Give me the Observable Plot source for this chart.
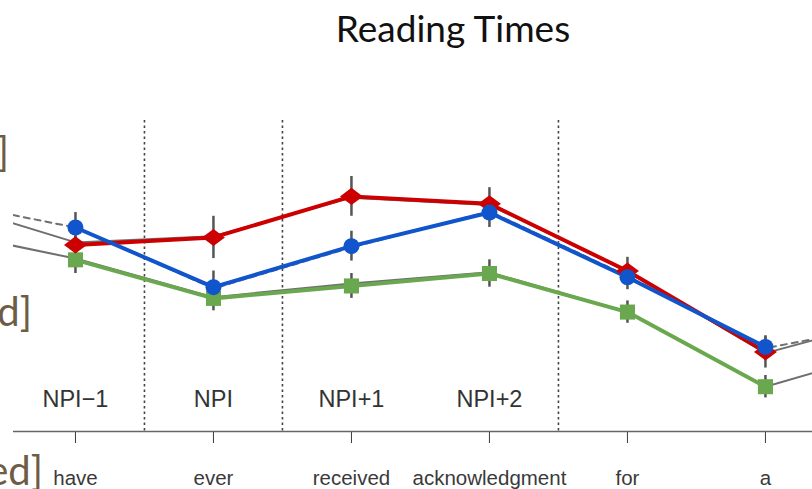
<!DOCTYPE html>
<html>
<head>
<meta charset="utf-8">
<script src="https://cdn.jsdelivr.net/npm/d3@7"></script>
<script src="https://cdn.jsdelivr.net/npm/@observablehq/plot@0.6"></script>
<style>
  html, body { margin: 0; padding: 0; background: #fff; }
  body { width: 812px; height: 489px; position: relative; overflow: hidden; }
  #title { position: relative; height: 60px; }
  #title span { position: absolute; left: 453px; top: 9px; transform: translateX(-50%);
    font-family: Lato, sans-serif; font-size: 37px; line-height: 1; color: #111; white-space: nowrap; }
  .cut { position: absolute; font-family: Lato, sans-serif; font-size: 40px; line-height: 1;
    color: #6e5d44; white-space: nowrap; text-align: right; z-index: 2; }
  #chart svg { display: block; }
</style>
</head>
<body>
<div id="title"><span>Reading Times</span></div>
<div id="chart"></div>
<div class="cut" style="top:131px; right:803px;">]</div>
<div class="cut" style="top:291px; right:780px;">d]</div>
<div class="cut" style="top:450px; right:769px;">ed]</div>
<script>
// word positions along the sentence
const words = ["have", "ever", "received", "acknowledgment", "for", "a"];
const regionLabels = ["NPI−1", "NPI", "NPI+1", "NPI+2"];
const regionBoundaries = [0.5, 1.5, 3.5];

// reading times (estimated, ms) per word
const red = [350, 356, 389, 383, 329, 264];
const redErr = [14, 17, 16, 13, 11, 13];
const blue = [364, 316, 349, 376, 324, 268];
const blueErr = [12, 13, 12, 12, 10, 8];
const green = [338, 307, 317, 327, 296, 236];
const greenErr = [11, 10, 10, 11, 9, 9];

// background (gray) conditions, including preceding and following words
const grayX = [-1, 0, 1, 2, 3, 4, 5, 6];
const graySolidA = [386, 352, 357, 388, 382, 329, 263, 293];
const graySolidB = [362, 339, 308, 319, 328, 296, 236, 268];
const grayDashed = [386, 364, 315, 348, 377, 325, 267, 288];

const pts = (vals, errs, s) => vals.map((v, i) => ({x: i, y: v, lo: v - errs[i], hi: v + errs[i], s}));
const redPts = pts(red, redErr, "red");
const bluePts = pts(blue, blueErr, "blue");
const greenPts = pts(green, greenErr, "green");
const grayRows = (vals) => vals.map((v, i) => ({x: grayX[i], y: v}));

const wideDiamond = {
  draw(ctx, size) {
    const s = Math.sqrt(size), w = s * 0.78, h = s * 0.58;
    ctx.moveTo(-w, 0); ctx.lineTo(0, -h); ctx.lineTo(w, 0); ctx.lineTo(0, h); ctx.closePath();
  }
};

const RED = "#cc0000", BLUE = "#1155cc", GREEN = "#6aa84f";

const chart = Plot.plot({
  width: 812,
  height: 429,
  marginLeft: 13,
  marginRight: 0,
  marginTop: 60,
  marginBottom: 58,
  style: {fontFamily: "'Liberation Sans', Arial, Helvetica, sans-serif", fontSize: "20.5px", color: "#3a3a3a", background: "transparent"},
  x: {type: "linear", domain: [-0.449, 5.341], ticks: [0, 1, 2, 3, 4, 5], tickFormat: i => words[i], tickSize: 12, tickPadding: 27, label: null},
  y: {domain: [200, 450], axis: null},
  marks: [
    Plot.ruleX(regionBoundaries, {stroke: "#444", strokeWidth: 1.6, strokeDasharray: "2.5,3"}),
    Plot.ruleY([200], {stroke: "#666", strokeWidth: 1.6}),
    Plot.line(grayRows(graySolidA), {x: "x", y: "y", stroke: "#6f6f6f", strokeWidth: 2, clip: true}),
    Plot.line(grayRows(graySolidB), {x: "x", y: "y", stroke: "#6f6f6f", strokeWidth: 2, clip: true}),
    Plot.line(grayRows(grayDashed), {x: "x", y: "y", stroke: "#6f6f6f", strokeWidth: 2, strokeDasharray: "6,5", clip: true}),
    Plot.ruleX([...greenPts, ...redPts, ...bluePts], {x: "x", y1: "lo", y2: "hi", stroke: "#555", strokeWidth: 2.5}),
    Plot.line(greenPts, {x: "x", y: "y", stroke: GREEN, strokeWidth: 4}),
    Plot.line(redPts, {x: "x", y: "y", stroke: RED, strokeWidth: 4}),
    Plot.line(bluePts, {x: "x", y: "y", stroke: BLUE, strokeWidth: 4}),
    Plot.dot(greenPts, {x: "x", y: "y", symbol: "square", r: 8.5, fill: GREEN, stroke: "none"}),
    Plot.dot(redPts, {x: "x", y: "y", symbol: wideDiamond, r: 8.3, fill: RED, stroke: "none"}),
    Plot.dot(bluePts, {x: "x", y: "y", symbol: "circle", r: 8, fill: BLUE, stroke: "none"}),
    Plot.text(regionLabels, {x: (d, i) => i, text: d => d, frameAnchor: "bottom", dy: -25, fontSize: 23.5, fill: "#333"})
  ]
});
document.getElementById("chart").appendChild(chart);
</script>
</body>
</html>
